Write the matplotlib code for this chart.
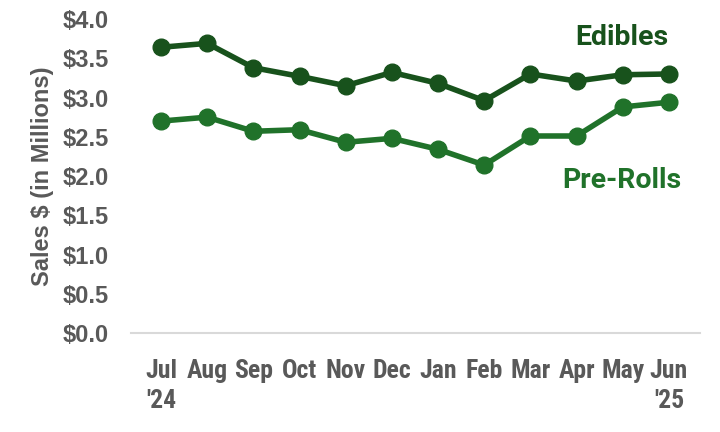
import matplotlib.pyplot as plt
import numpy as np

months = ["Jul\n'24", "Aug", "Sep", "Oct", "Nov", "Dec", "Jan", "Feb", "Mar", "Apr", "May", "Jun\n'25"]
edibles = [3.64, 3.69, 3.38, 3.27, 3.15, 3.32, 3.18, 2.96, 3.30, 3.21, 3.29, 3.30]
pre_rolls = [2.70, 2.75, 2.57, 2.59, 2.43, 2.48, 2.34, 2.14, 2.51, 2.51, 2.88, 2.94]
yticks = [0.0, 0.5, 1.0, 1.5, 2.0, 2.5, 3.0, 3.5, 4.0]

dark_green = "#18521c"
mid_green = "#20722a"
gray = "#595959"
narrow = ["Roboto Condensed", "DejaVu Sans"]
label_font = ["Roboto", "DejaVu Sans"]

fig = plt.figure(figsize=(7.2, 4.32), dpi=100)
ax = fig.add_axes([0.182, 0.229, 0.79, 0.727])

x = np.arange(len(months))
ax.plot(x, edibles, color=dark_green, lw=4, marker="o", ms=12, clip_on=False, zorder=3)
ax.plot(x, pre_rolls, color=mid_green, lw=4, marker="o", ms=12, clip_on=False, zorder=3)

ax.set_xlim(-0.65, 11.67)
ax.set_ylim(0, 4)
ax.set_yticks(yticks)
ax.set_yticklabels([f"${v:.1f}" for v in yticks], fontsize=17, fontweight="bold",
                   color=gray, family="Liberation Sans")
ax.set_xticks(x)
ax.set_xticklabels(months, fontsize=18.5, fontweight="bold", color=gray, family=narrow,
                   va="top", linespacing=1.3)
ax.tick_params(axis="both", length=0)
ax.tick_params(axis="x", pad=19)
ax.tick_params(axis="y", pad=16)

for side in ["top", "right", "left"]:
    ax.spines[side].set_visible(False)
ax.spines["bottom"].set_color("#d9d9d9")
ax.spines["bottom"].set_linewidth(1.5)

ax.set_ylabel("Sales $ (in Millions)", fontsize=17, fontweight="bold", color=gray,
              family="Liberation Sans", labelpad=6)

ax.text(9.97, 3.76, "Edibles", fontsize=20.5, fontweight="bold", color=dark_green,
        family=label_font, ha="center", va="center")
ax.text(9.97, 1.94, "Pre-Rolls", fontsize=20.5, fontweight="bold", color=mid_green,
        family=label_font, ha="center", va="center")

fig.savefig("out.png", dpi=100)
